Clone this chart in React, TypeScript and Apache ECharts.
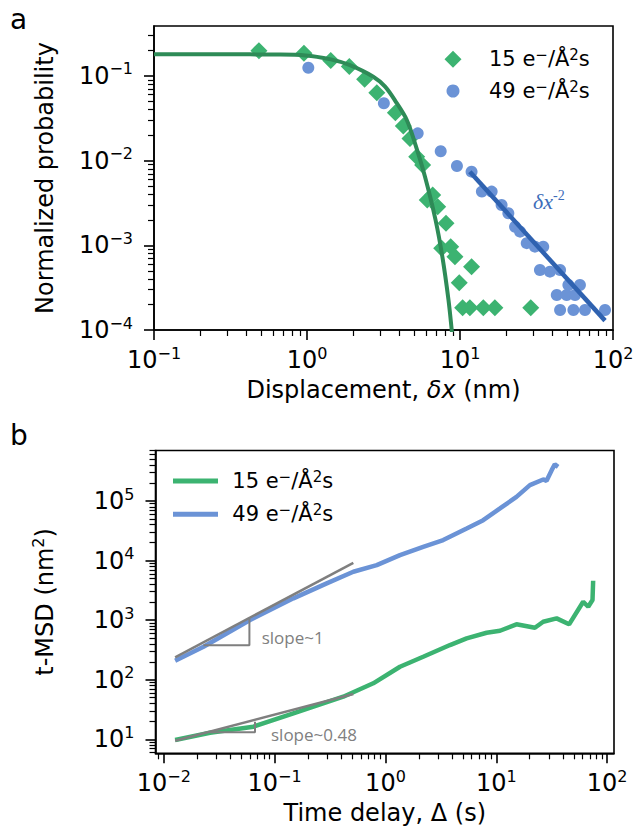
import React, { useEffect, useRef } from 'react';
import * as echarts from 'echarts';

const FONT = 'DejaVu Sans';
const L15 = '15 e⁻/Å²s';
const L49 = '49 e⁻/Å²s';

// ---- Panel a: displacement distribution ----
const aX15 = [0.485, 0.955, 1.43, 1.89, 2.38, 2.86, 3.78, 4.26, 4.71, 5.21, 5.70, 6.11, 6.63, 7.15, 8.10, 7.59, 8.69, 9.27, 11.9, 9.89, 10.4, 11.6, 14.2, 16.9, 29.0];
const aY15 = [0.199, 0.185, 0.152, 0.129, 0.0914, 0.0635, 0.0369, 0.0256, 0.0182, 0.01114, 0.00889, 0.00343, 0.00394, 0.00286, 0.00182, 0.000923, 0.000964, 0.000734, 0.00056, 0.000362, 0.000183, 0.000183, 0.000183, 0.000183, 0.000183];
const aX49 = [1.02, 3.18, 5.29, 7.48, 9.55, 11.9, 13.9, 16.1, 18.7, 20.7, 22.9, 24.7, 27.3, 30.9, 35.0, 33.3, 38.7, 45.1, 51.1, 60.8, 42.9, 49.8, 56.5, 45.1, 55.1, 65.6, 88.7];
const aY49 = [0.125, 0.0477, 0.021, 0.0129, 0.00865, 0.00741, 0.00431, 0.00431, 0.00299, 0.00239, 0.00166, 0.00145, 0.00106, 0.000964, 0.000964, 0.000512, 0.000489, 0.000512, 0.00034, 0.00034, 0.000259, 0.000259, 0.000259, 0.000172, 0.000172, 0.000172, 0.000172];
const aFitX = [0.1, 0.3, 0.6, 0.98, 1.43, 1.89, 2.71, 3.24, 3.86, 4.49, 5.08, 5.90, 6.92, 7.69, 8.41, 8.83, 9.0];
const aFitY = [0.18, 0.18, 0.179, 0.175, 0.157, 0.135, 0.098, 0.0748, 0.0477, 0.0302, 0.016, 0.0065, 0.002, 0.00071, 0.000226, 0.0001, 0.00007];
const aPowX = [11.6, 88.7];
const aPowY = [0.0074, 0.000129];
const aXTicks = [-1, 0, 1, 2];
const aYTicks = [-4, -3, -2, -1];

// ---- Panel b: t-MSD ----
const bT15 = [0.01265, 0.0261, 0.0643, 0.1476, 0.416, 0.776, 1.352, 2.19, 3.82, 5.4, 8.18, 10.8, 15.2, 22.3, 26.5, 35.0, 45.4, 60.8, 67.5, 73.8, 74.8];
const bY15 = [9.73, 12.9, 16.3, 27.3, 51.9, 87.1, 165, 243, 382, 495, 615, 664, 851, 745, 940, 1072, 851, 2037, 1679, 2173, 4580];
const bT49 = [0.01265, 0.0228, 0.06, 0.1476, 0.295, 0.513, 0.834, 1.352, 2.19, 3.32, 5.4, 7.62, 10.8, 15.2, 20.1, 26.5, 28.4, 31.6, 33.7, 36.1];
const bY49 = [208, 358, 1005, 2323, 4140, 6490, 8400, 12360, 17060, 22080, 34670, 47750, 75160, 117500, 184900, 230100, 218300, 329600, 411100, 375000];
const bSlope1T = [0.01265, 0.513];
const bSlope1Y = [238, 9180];
const bSlope048T = [0.01265, 0.513];
const bSlope048Y = [9.48, 57.5];
const bTri1T = [0.0228, 0.0592, 0.0592];
const bTri1Y = [378, 378, 1042];
const bTri2T = [0.0261, 0.0665, 0.0665];
const bTri2Y = [13.1, 13.1, 19.7];
const bXTicks = [-2, -1, 0, 1, 2];
const bYTicks = [1, 2, 3, 4, 5];

const lg = (v: number) => Math.log10(v);
const pairs = (xs: number[], ys: number[]) => xs.map((x, i) => [lg(x), lg(ys[i])]);

const fmtPow = (v: number) => {
  const r = Math.round(v);
  return `10{s|${r < 0 ? '−' + Math.abs(r) : r}}`;
};

// legend name "15 e⁻/Å²s" -> rich text with real superscripts
const fmtLegend = (name: string) => name.replace('⁻', '{s|−}').replace('²', '{s|2}');

function minorTicks(lo: number, hi: number) {
  const out: number[] = [];
  for (let d = Math.floor(lo) - 1; d <= Math.ceil(hi); d++) {
    for (let k = 2; k <= 9; k++) {
      const v = d + Math.log10(k);
      if (v >= lo - 1e-9 && v <= hi + 1e-9) out.push(v);
    }
  }
  return out;
}

function axisPair(kind: 'x' | 'y', gridIndex: number, min: number, max: number, majors: number[], name: string, nameGap: number) {
  const position = kind === 'x' ? 'bottom' : 'left';
  const major: any = {
    type: 'value', gridIndex, min, max, position,
    name, nameLocation: 'middle', nameGap, nameMoveOverlap: false,
    nameTextStyle: {
      fontFamily: FONT, fontSize: 24, color: '#000', lineHeight: 28,
      rich: {
        i: { fontFamily: FONT, fontSize: 24, fontStyle: 'italic', color: '#000', lineHeight: 28 },
        s: { fontFamily: FONT, fontSize: 16, color: '#000', lineHeight: 16, verticalAlign: 'top' },
      },
    },
    axisLine: { show: true, onZero: false, lineStyle: { color: '#000', width: 1.6 } },
    axisTick: { show: true, inside: false, length: 10, lineStyle: { color: '#000', width: 1.6 }, customValues: majors },
    axisLabel: {
      show: true, customValues: majors, margin: kind === 'x' ? 15 : 21, formatter: fmtPow,
      color: '#000', fontFamily: FONT, fontSize: 24, lineHeight: 30,
      rich: { s: { fontFamily: FONT, fontSize: 16, lineHeight: 16, verticalAlign: 'top', color: '#000' } },
    },
    splitLine: { show: false },
    minorTick: { show: false },
    minorSplitLine: { show: false },
  };
  const minor: any = {
    type: 'value', gridIndex, min, max, position, silent: true,
    axisLine: { show: false, onZero: false },
    axisTick: { show: true, inside: false, length: 6, lineStyle: { color: '#000', width: 1.2 }, customValues: minorTicks(min, max) },
    axisLabel: { show: false },
    splitLine: { show: false },
  };
  return [major, minor];
}

const greenM = '#3cb371';
const greenFit = '#2e8b57';
const blueM = '#6b93d6';
const blueFit = '#2f62b0';
const gray = '#7f7f7f';

function buildOption(): any {
  const [ax, axm] = axisPair('x', 0, -1, 2, aXTicks, 'Displacement, {i|δx} (nm)', 46);
  const [ay, aym] = axisPair('y', 0, -4, -0.41, aYTicks, 'Normalized probability', 95);
  const [bx, bxm] = axisPair('x', 1, -2.075, 2.062, bXTicks, 'Time delay, Δ (s)', 46);
  const [by, bym] = axisPair('y', 1, 0.765, 5.848, bYTicks, 't-MSD (nm{s|2})', 97);

  const line = (data: number[][], color: string, width: number, xi: number, yi: number, extra: any = {}) => ({
    type: 'line', data, xAxisIndex: xi, yAxisIndex: yi, showSymbol: false, symbol: 'none',
    lineStyle: { color, width }, itemStyle: { color }, silent: true, z: 3, ...extra,
  });

  const legendText = (pad: number) => ({
    fontFamily: FONT, fontSize: 21, color: '#000', lineHeight: 24, padding: [0, 0, 0, pad],
    rich: { s: { fontFamily: FONT, fontSize: 15, lineHeight: 15, verticalAlign: 'top', color: '#000' } },
  });

  return {
    animation: false,
    backgroundColor: '#fff',
    textStyle: { fontFamily: FONT },
    grid: [
      { left: 154, top: 26, width: 459, height: 304, show: true, borderColor: '#000', borderWidth: 1.6, backgroundColor: 'transparent', containLabel: false, outerBoundsMode: 'none' },
      { left: 155.5, top: 450.5, width: 458.5, height: 302.8, show: true, borderColor: '#000', borderWidth: 1.6, backgroundColor: 'transparent', containLabel: false, outerBoundsMode: 'none' },
    ],
    xAxis: [ax, axm, bx, bxm],
    yAxis: [ay, aym, by, bym],
    legend: [
      { data: [{ name: L15, icon: 'diamond' }], formatter: fmtLegend, orient: 'vertical', left: 444.5, top: 47.3, itemWidth: 17, itemHeight: 17, padding: 0, selectedMode: false, textStyle: legendText(22.5) },
      { data: [{ name: L49, icon: 'circle' }], formatter: fmtLegend, orient: 'vertical', left: 446.5, top: 79, itemWidth: 13, itemHeight: 13, padding: 0, selectedMode: false, textStyle: legendText(24.5) },
      {
        data: [
          { name: L15, icon: 'rect', itemStyle: { color: greenM, opacity: 1 } },
          { name: L49, icon: 'rect', itemStyle: { color: blueM, opacity: 1 } },
        ],
        formatter: fmtLegend,
        orient: 'vertical', left: 173, top: 469, itemWidth: 45, itemHeight: 5, itemGap: 9.3, padding: 0, selectedMode: false, textStyle: legendText(9.3),
      },
    ],
    series: [
      { type: 'scatter', name: L15, xAxisIndex: 0, yAxisIndex: 0, symbol: 'diamond', symbolSize: 17, itemStyle: { color: greenM, opacity: 1 }, data: pairs(aX15, aY15), z: 2 },
      { type: 'scatter', name: L49, xAxisIndex: 0, yAxisIndex: 0, symbol: 'circle', symbolSize: 12, itemStyle: { color: blueM, opacity: 1 }, data: pairs(aX49, aY49), z: 2 },
      line(pairs(aFitX, aFitY), greenFit, 4, 0, 0, { smooth: 0.35 }),
      line(pairs(aPowX, aPowY), blueFit, 4.5, 0, 0),
      line(pairs(bT49, bY49), blueM, 4.5, 2, 2),
      line(pairs(bT15, bY15), greenM, 4.5, 2, 2),
      line(pairs(bSlope1T, bSlope1Y), gray, 2.5, 2, 2, { z: 4 }),
      line(pairs(bSlope048T, bSlope048Y), gray, 2.5, 2, 2, { z: 4 }),
      line(pairs(bTri1T, bTri1Y), gray, 2, 2, 2, { z: 4 }),
      line(pairs(bTri2T, bTri2Y), gray, 2, 2, 2, { z: 4 }),
    ],
    graphic: [
      { type: 'text', x: 10, y: 19.7, style: { text: 'a', fontFamily: FONT, fontSize: 28, fill: '#000', verticalAlign: 'middle' } },
      { type: 'text', x: 10, y: 435.3, style: { text: 'b', fontFamily: FONT, fontSize: 28, fill: '#000', verticalAlign: 'middle' } },
      {
        type: 'text', x: 533, y: 201.7,
        style: {
          text: '{i|δx}{s|-2}', verticalAlign: 'middle',
          rich: {
            i: { fontFamily: 'Liberation Serif', fontStyle: 'italic', fontSize: 22, fill: '#3d6cb9', lineHeight: 26 },
            s: { fontFamily: 'Liberation Serif', fontSize: 14, fill: '#3d6cb9', lineHeight: 14, verticalAlign: 'top' },
          },
        },
      },
      { type: 'text', x: 261.7, y: 637.3, style: { text: 'slope~1', fontFamily: 'Open Sans', fontSize: 17, fill: '#808080', verticalAlign: 'middle' } },
      { type: 'text', x: 271, y: 734, style: { text: 'slope~0.48', fontFamily: 'Open Sans', fontSize: 17, fill: '#808080', verticalAlign: 'middle' } },
    ],
  };
}

export default function App() {
  const ref = useRef<HTMLDivElement>(null);
  useEffect(() => {
    if (!ref.current) return;
    const chart = echarts.init(ref.current, undefined, { renderer: 'svg' });
    chart.setOption(buildOption());
    return () => chart.dispose();
  }, []);
  return <div ref={ref} style={{ position: 'fixed', left: 0, top: 0, width: 636, height: 827, background: '#fff' }} />;
}
